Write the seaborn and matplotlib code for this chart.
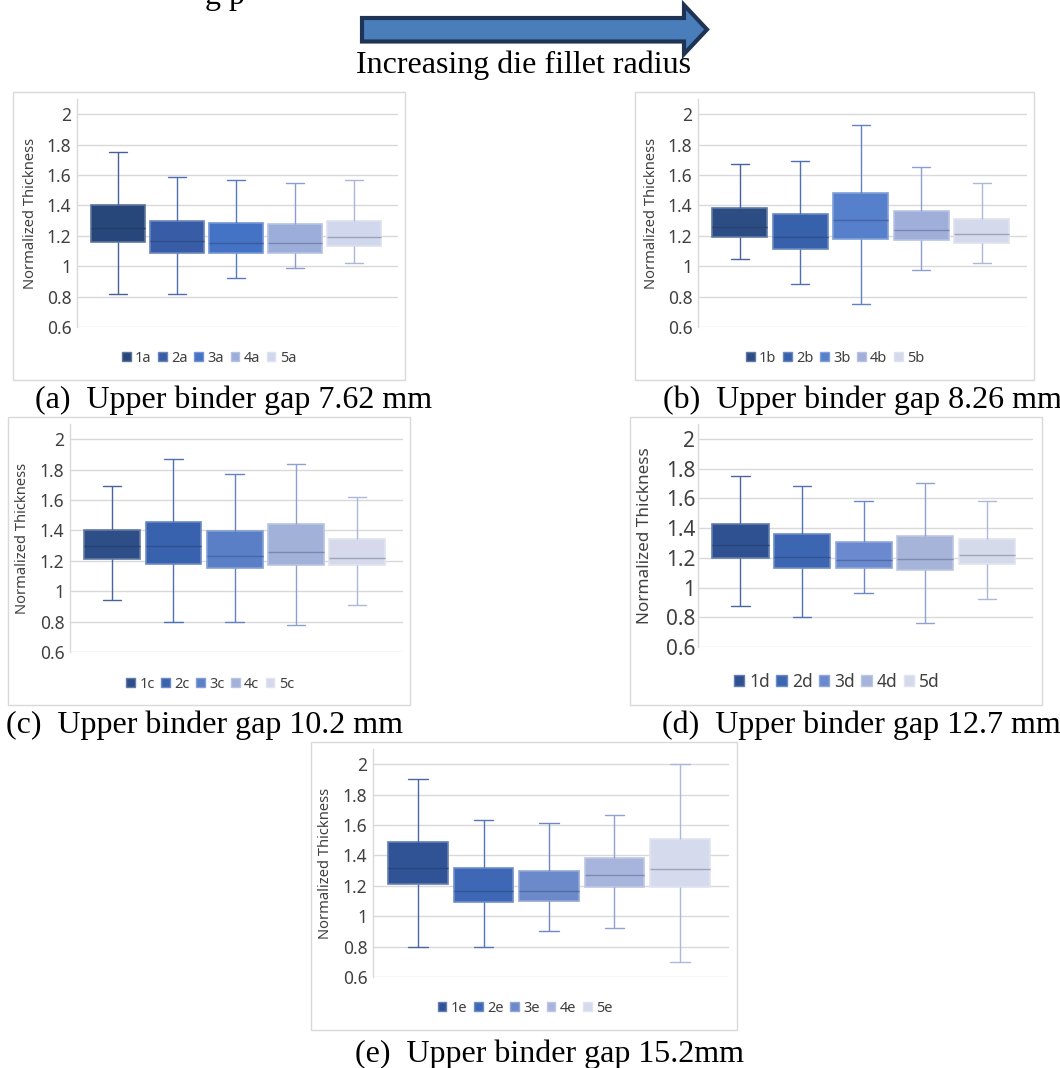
import numpy as np
import pandas as pd
import seaborn as sns
import matplotlib.pyplot as plt
from matplotlib.patches import Patch, Rectangle, Polygon
from matplotlib.colors import to_rgb

# Box data: lower whisker, Q1, median, Q3, upper whisker
cases_a = ['1a', '2a', '3a', '4a', '5a']
lo_a = [0.82, 0.82, 0.92, 0.99, 1.02]
q1_a = [1.16, 1.09, 1.09, 1.09, 1.13]
med_a = [1.25, 1.165, 1.15, 1.15, 1.19]
q3_a = [1.40, 1.30, 1.285, 1.28, 1.30]
hi_a = [1.75, 1.59, 1.57, 1.55, 1.565]

cases_b = ['1b', '2b', '3b', '4b', '5b']
lo_b = [1.05, 0.88, 0.75, 0.975, 1.02]
q1_b = [1.19, 1.11, 1.18, 1.17, 1.155]
med_b = [1.255, 1.19, 1.305, 1.235, 1.21]
q3_b = [1.385, 1.345, 1.48, 1.365, 1.31]
hi_b = [1.67, 1.69, 1.93, 1.655, 1.545]

cases_c = ['1c', '2c', '3c', '4c', '5c']
lo_c = [0.94, 0.795, 0.80, 0.775, 0.91]
q1_c = [1.215, 1.18, 1.15, 1.17, 1.17]
med_c = [1.30, 1.295, 1.23, 1.255, 1.22]
q3_c = [1.405, 1.455, 1.395, 1.44, 1.345]
hi_c = [1.695, 1.87, 1.77, 1.84, 1.62]

cases_d = ['1d', '2d', '3d', '4d', '5d']
lo_d = [0.875, 0.80, 0.965, 0.76, 0.92]
q1_d = [1.20, 1.13, 1.13, 1.115, 1.155]
med_d = [1.285, 1.205, 1.185, 1.195, 1.22]
q3_d = [1.425, 1.36, 1.305, 1.35, 1.325]
hi_d = [1.75, 1.685, 1.58, 1.70, 1.58]

cases_e = ['1e', '2e', '3e', '4e', '5e']
lo_e = [0.80, 0.80, 0.905, 0.92, 0.70]
q1_e = [1.21, 1.095, 1.10, 1.195, 1.19]
med_e = [1.315, 1.165, 1.165, 1.27, 1.31]
q3_e = [1.49, 1.315, 1.30, 1.385, 1.51]
hi_e = [1.90, 1.635, 1.61, 1.665, 2.00]

tick_vals = [0.6, 0.8, 1.0, 1.2, 1.4, 1.6, 1.8, 2.0]
tick_labels = ['0.6', '0.8', '1', '1.2', '1.4', '1.6', '1.8', '2']

captions = ['(a)  Upper binder gap 7.62 mm', '(b)  Upper binder gap 8.26 mm',
            '(c)  Upper binder gap 10.2 mm', '(d)  Upper binder gap 12.7 mm',
            '(e)  Upper binder gap 15.2mm']

# Excel-like monochrome blues, slightly different per panel
pal_a = ['#274679', '#385CA5', '#4472C4', '#9DADDA', '#D1D7EC']
pal_b = ['#2C4C84', '#3761AB', '#5680CB', '#A0AFD9', '#D4D9EB']
pal_c = ['#2D4E87', '#3862AD', '#5A7FC7', '#A2B1D8', '#D5D9EB']
pal_d = ['#2F5191', '#3C66B1', '#6A89CE', '#A6B4DA', '#D5DAEB']
pal_e = ['#2F5395', '#3E68B5', '#6C89CA', '#A7B4DB', '#D5DAEC']

sns.set_style('white')
plt.rcParams['font.family'] = ['Noto Sans', 'DejaVu Sans']

W, H = 1060, 1068
fig = plt.figure(figsize=(W / 100, H / 100), dpi=100)


def fx(x):
    return x / W


def fy(y):
    return 1 - y / H


def mix(c1, c2, t):
    a, b = np.array(to_rgb(c1)), np.array(to_rgb(c2))
    return tuple(a * (1 - t) + b * t)


def draw_panel(ax_px, frame_px, leg_xy, cases, stats, colors,
               tick_fs, lab_fs, leg_fs, lab_x, pad, colsp):
    l, t, r, b = frame_px
    fig.add_artist(Rectangle((fx(l), fy(b)), fx(r - l), (b - t) / H,
                             transform=fig.transFigure, fill=False,
                             edgecolor='#D9D9D9', lw=1))
    l, t, r, b = ax_px
    ax = fig.add_axes([fx(l), fy(b), fx(r - l), (b - t) / H])

    # five values per case -> quartiles and whiskers hit them exactly
    df = pd.DataFrame({'case': np.repeat(cases, 5),
                       'value': np.ravel(np.column_stack(stats))})
    sns.boxplot(data=df, x='case', y='value', hue='case', palette=colors,
                whis=(0, 100), width=0.91, showfliers=False, linewidth=1,
                legend=False, ax=ax)

    for cont, c in zip(ax.containers, colors):
        for bx in cont.boxes:
            bx.set_facecolor(c)
            bx.set_edgecolor(mix(c, 'white', 0.25))
            bx.set_linewidth(1.2)
        for ln in cont.medians:
            ln.set_color(mix(c, '#1A2A4A', 0.3))
            ln.set_linewidth(1)
        for ln in cont.whiskers + cont.caps:
            ln.set_color(mix(c, '#6F86BE', 0.4))
            ln.set_linewidth(1)
        for ln in cont.caps:
            m = np.mean(ln.get_xdata())
            ln.set_xdata([m - 0.15, m + 0.15])

    ax.set_xlim(-0.69, 4.75)
    ax.set_ylim(0.6, 2.1)
    ax.set_yticks(tick_vals)
    ax.set_yticklabels(tick_labels)
    ax.set_axisbelow(True)
    ax.yaxis.grid(True, color='#D9D9D9', lw=1)
    for s in ['top', 'right', 'bottom']:
        ax.spines[s].set_visible(False)
    ax.spines['left'].set_color('#D9D9D9')
    ax.spines['left'].set_linewidth(1)
    ax.tick_params(axis='y', length=0, pad=pad, labelsize=tick_fs,
                   labelcolor='#404040')
    ax.tick_params(axis='x', bottom=False, labelbottom=False)
    ax.set_xlabel('')
    ax.set_ylabel('Normalized Thickness', fontsize=lab_fs, color='#404040')
    ax.yaxis.set_label_coords(lab_x, 0.5)

    handles = [Patch(facecolor=c, edgecolor=mix(c, 'white', 0.25)) for c in colors]
    leg = ax.legend(handles, cases, loc='center',
                    bbox_to_anchor=(fx(leg_xy[0]), fy(leg_xy[1])),
                    bbox_transform=fig.transFigure, ncol=5, frameon=False,
                    fontsize=leg_fs, handlelength=0.6, handleheight=0.6,
                    handletextpad=0.3, columnspacing=colsp, borderpad=0)
    for txt in leg.get_texts():
        txt.set_color('#404040')
    return ax


draw_panel((77, 99, 398, 327), (13, 92, 405, 380), (209, 358), cases_a,
           [lo_a, q1_a, med_a, q3_a, hi_a], pal_a, 12.5, 10.6, 10.5, -0.12, 4, 0.45)
draw_panel((698, 99, 1027, 327), (635, 92, 1034, 380), (835, 358), cases_b,
           [lo_b, q1_b, med_b, q3_b, hi_b], pal_b, 12.5, 10.6, 10.5, -0.12, 4, 0.45)
draw_panel((70, 424, 403, 652), (8, 417, 410, 705), (210, 684), cases_c,
           [lo_c, q1_c, med_c, q3_c, hi_c], pal_c, 12.5, 10.6, 10.5, -0.12, 4, 0.45)
draw_panel((698, 424, 1033, 647), (630, 417, 1042, 705), (837, 682), cases_d,
           [lo_d, q1_d, med_d, q3_d, hi_d], pal_d, 15, 12.3, 12.5, -0.134, 2, 0.35)
draw_panel((373, 749, 729, 977), (311, 742, 737, 1030), (525, 1008), cases_e,
           [lo_e, q1_e, med_e, q3_e, hi_e], pal_e, 12.5, 10.6, 10.5, -0.112, 4, 0.45)

# captions under each chart
serif = 'Liberation Serif'
cap_pos = [(35, 408), (663, 408), (6, 733), (662, 733), (355, 1062)]
for txt, (x, y) in zip(captions, cap_pos):
    fig.text(fx(x), fy(y), txt, family=serif, fontsize=23, ha='left',
             va='baseline', color='black')

# leftover line of text cut by the top edge (cut off in the source as well)
fig.text(fx(205), fy(4), 'g p', family=serif, fontsize=23, ha='left',
         va='baseline', color='black')

# arrow at the top
arrow_px = [(362, 18), (684, 18), (684, 5), (707, 29.5), (684, 54),
            (684, 41.5), (362, 41.5)]
fig.add_artist(Polygon([(fx(x), fy(y)) for x, y in arrow_px], closed=True,
                       transform=fig.transFigure, facecolor='#4A7EBB',
                       edgecolor='#1F3455', lw=3, joinstyle='miter'))
fig.text(fx(524), fy(73), 'Increasing die fillet radius', family=serif,
         fontsize=23, ha='center', va='baseline', color='black')

fig.savefig('out.png', dpi=100)
